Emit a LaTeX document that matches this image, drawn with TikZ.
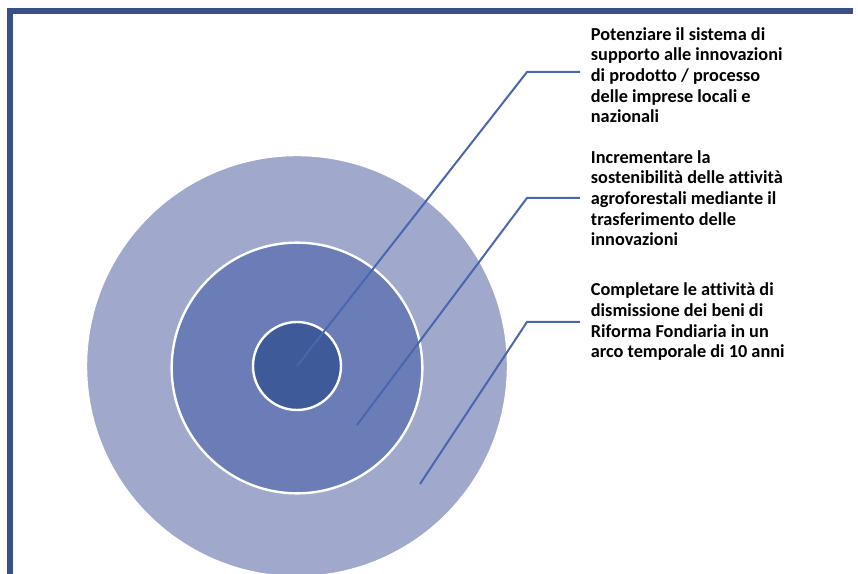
\documentclass[tikz,border=0pt]{standalone}
\usepackage{fontspec}
\setmainfont{Carlito}[Ligatures=NoCommon]
\usetikzlibrary{positioning, calc}
\definecolor{frameblue}{HTML}{3B5088}
\definecolor{ringouter}{HTML}{A0A8CC}
\definecolor{ringmid}{HTML}{6A7DB6}
\definecolor{ringinner}{HTML}{3F5A98}
\definecolor{leaderblue}{HTML}{4A66AE}

\begin{document}
\begin{tikzpicture}[x=0.75pt, y=-0.75pt,
        ring/.style={circle, draw=white, line width=1.8pt, inner sep=0pt},
        goal/.style={anchor=west, align=left, inner xsep=8pt, inner ysep=0pt, font=\fontsize{13.7}{15.5}\selectfont\bfseries},
        leader/.style={draw=leaderblue, line width=1.5pt}]

        \useasboundingbox (0,0) rectangle (858,574);
        \clip (0,0) rectangle (858,574);

        % Frame
        \draw [frameblue, line width=4.5pt] (10,590) -- (10,11) -- (853,11);

        % Rings
        \node [ring, fill=ringouter, minimum size=316.5pt] (outer) at (297,366) {};
        \node [ring, fill=ringmid, minimum size=188pt] (middle) at (297,368) {};
        \node [ring, fill=ringinner, minimum size=66pt] (inner) at (297,366) {};

        % Texts
        \node [goal] (t1) at (580,75) {Potenziare il sistema di\\supporto alle innovazioni\\di prodotto / processo\\delle imprese locali e\\nazionali};
        \node [goal] (t2) at (580,198) {Incrementare la\\sostenibilità delle attività\\agroforestali mediante il\\trasferimento delle\\innovazioni};
        \node [goal] (t3) at (580,322) {Completare le attività di\\dismissione dei beni di\\Riforma Fondiaria in un\\arco temporale di 10 anni};

        % Leaders
        \coordinate (s2) at (357,425);
        \coordinate (s3) at (420,484);
        \coordinate (k1) at (527,72);
        \coordinate (k2) at (527,198);
        \coordinate (k3) at (527,322);
        \path [leader] (inner.center) -- (k1) -- (k1 -| t1.west);
        \path [leader] (s2) -- (k2) -- (k2 -| t2.west);
        \path [leader] (s3) -- (k3) -- (k3 -| t3.west);
    \end{tikzpicture}
\end{document}
